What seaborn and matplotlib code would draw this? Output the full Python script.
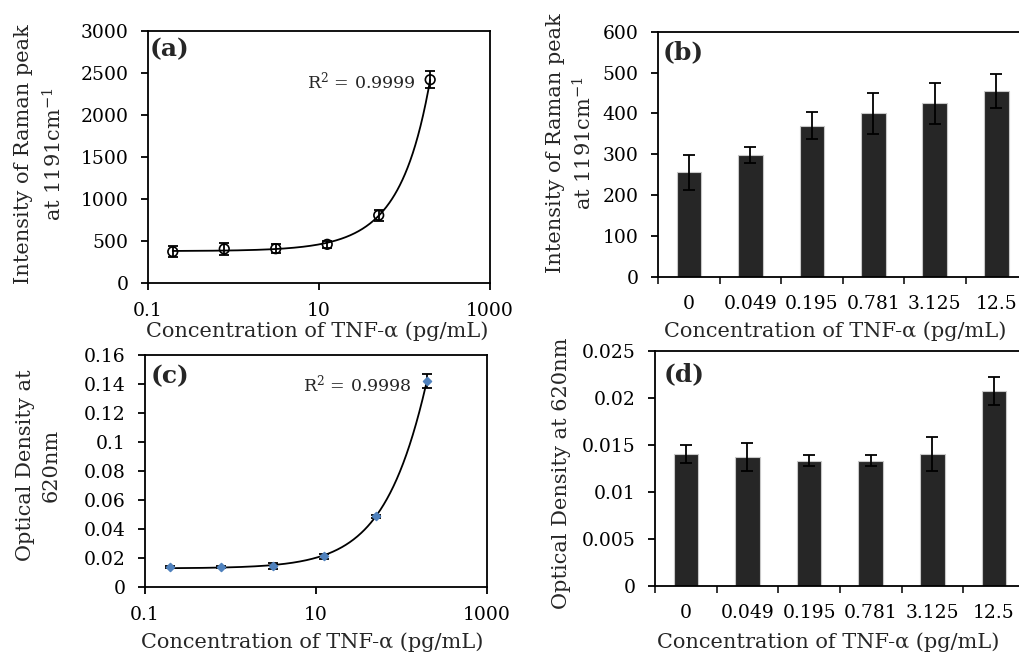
import numpy as np
import pandas as pd
import matplotlib.pyplot as plt
import seaborn as sns
from matplotlib.ticker import FixedLocator, NullFormatter, FixedFormatter

# data
conc = [0.195, 0.781, 3.125, 12.5, 50, 200]
raman_mean = [372, 405, 408, 460, 806, 2420]
raman_err = [65, 75, 52, 45, 67, 99]
od_mean = [0.0136, 0.0136, 0.0143, 0.0209, 0.0486, 0.1423]
od_err = [0.0006, 0.0006, 0.0020, 0.0015, 0.0010, 0.0048]
r2_a = '0.9999'
r2_c = '0.9998'

bar_labels = ['0', '0.049', '0.195', '0.781', '3.125', '12.5']
raman_bar = [256, 298, 370, 400, 425, 455]
raman_bar_err = [43, 20, 34, 51, 50, 41]
od_bar = [0.0140, 0.0137, 0.0133, 0.0133, 0.0140, 0.0207]
od_bar_err = [0.0010, 0.0015, 0.0006, 0.0006, 0.0018, 0.0015]

xlab = 'Concentration of TNF-α (pg/mL)'

sns.set_style('ticks')
plt.rcParams['font.family'] = ['DejaVu Serif']
plt.rcParams['mathtext.fontset'] = 'dejavuserif'
TICK = 13.5
LAB = 15

fig = plt.figure(figsize=(10.19, 6.55), dpi=100)
ax_a = fig.add_axes([0.1452, 0.568, 0.3356, 0.3847])
ax_b = fig.add_axes([0.646, 0.5776, 0.3618, 0.374])
ax_c = fig.add_axes([0.1423, 0.1043, 0.3353, 0.3537])
ax_d = fig.add_axes([0.6428, 0.1058, 0.3630, 0.3588])


def style_axes(ax):
    for s in ax.spines.values():
        s.set_color('black')
        s.set_linewidth(1.3)
    ax.tick_params(axis='both', direction='out', length=5, width=1.3,
                   labelsize=TICK, colors='black', pad=9)


def curve_panel(ax, y, yerr, marker, mfc, mec, ms, ymax, ystep, r2, tag, r2pos, tagpos):
    df = pd.DataFrame({'conc': conc, 'val': y})
    coef = np.polyfit(df['conc'], df['val'], 2)
    xs = np.geomspace(min(conc), max(conc), 400)
    fit = pd.DataFrame({'conc': xs, 'val': np.polyval(coef, xs)})
    sns.lineplot(data=fit, x='conc', y='val', ax=ax, color='black', lw=1.3)
    ax.errorbar(df['conc'], df['val'], yerr=yerr, fmt='none', ecolor='black',
                elinewidth=1.3, capsize=3.5, capthick=1.3, zorder=3)
    sns.scatterplot(data=df, x='conc', y='val', ax=ax, marker=marker, s=ms,
                    facecolor=mfc, edgecolor=mec, linewidth=1.2, zorder=4)
    ax.set_xscale('log')
    ax.set_xlim(0.1, 1000)
    ax.xaxis.set_major_locator(FixedLocator([0.1, 10, 1000]))
    ax.xaxis.set_major_formatter(FixedFormatter(['0.1', '10', '1000']))
    ax.xaxis.set_minor_locator(FixedLocator([]))
    ax.set_ylim(0, ymax)
    ax.set_yticks(np.arange(0, ymax + ystep / 2, ystep))
    style_axes(ax)
    ax.text(r2pos[0], r2pos[1], 'R$^2$ = ' + r2, transform=ax.transAxes,
            fontsize=12.5, va='center', ha='left')
    ax.text(tagpos[0], tagpos[1], tag, transform=ax.transAxes,
            fontsize=18, fontweight='bold', va='top', ha='left')


def bar_panel(ax, y, yerr, ymax, ystep, tag, tagpos):
    df = pd.DataFrame({'cat': bar_labels, 'val': y})
    sns.barplot(data=df, x='cat', y='val', ax=ax, color='#262626',
                saturation=1, width=0.4, edgecolor='#c8c8c8', linewidth=0.8,
                errorbar=None)
    ax.errorbar(range(len(bar_labels)), df['val'], yerr=yerr, fmt='none',
                ecolor='black', elinewidth=1.3, capsize=4, capthick=1.3, zorder=3)
    ax.set_xlim(-0.5, len(bar_labels) - 0.5)
    ax.set_ylim(0, ymax)
    ax.set_yticks(np.arange(0, ymax + ystep / 2, ystep))
    style_axes(ax)
    ax.xaxis.set_minor_locator(FixedLocator(np.arange(-0.5, len(bar_labels), 1.0)))
    ax.xaxis.set_minor_formatter(NullFormatter())
    ax.tick_params(axis='x', which='minor', direction='out', length=5, width=1.3,
                   bottom=True)
    ax.tick_params(axis='x', which='major', length=0, pad=13)
    ax.text(tagpos[0], tagpos[1], tag, transform=ax.transAxes,
            fontsize=18, fontweight='bold', va='top', ha='left')


curve_panel(ax_a, raman_mean, raman_err, 'o', 'none', 'black', 48, 3000, 500,
            r2_a, '(a)', (0.465, 0.80), (0.005, 0.975))
curve_panel(ax_c, od_mean, od_err, 'D', '#4F81BD', '#4F81BD', 16, 0.16, 0.02,
            r2_c, '(c)', (0.462, 0.875), (0.015, 0.96))
ax_c.set_yticklabels(['0', '0.02', '0.04', '0.06', '0.08', '0.1', '0.12', '0.14', '0.16'])

bar_panel(ax_b, raman_bar, raman_bar_err, 600, 100, '(b)', (0.012, 0.965))
bar_panel(ax_d, od_bar, od_bar_err, 0.025, 0.005, '(d)', (0.022, 0.95))
ax_d.set_yticklabels(['0', '0.005', '0.01', '0.015', '0.02', '0.025'])

ax_a.set_ylabel('Intensity of Raman peak\nat 1191cm$^{-1}$', fontsize=LAB, linespacing=1.45)
ax_b.set_ylabel('Intensity of Raman peak\nat 1191cm$^{-1}$', fontsize=LAB, linespacing=1.4)
ax_c.set_ylabel('Optical Density at\n620nm', fontsize=LAB, linespacing=1.45)
ax_d.set_ylabel('Optical Density at 620nm', fontsize=LAB)
for ax in (ax_a, ax_b, ax_c, ax_d):
    ax.set_xlabel(xlab, fontsize=LAB)
    ax.xaxis.label.set_va('center')
    ax.yaxis.label.set_va('center')

ax_a.yaxis.set_label_coords(-0.316, 0.51)
ax_b.yaxis.set_label_coords(-0.238, 0.546)
ax_c.yaxis.set_label_coords(-0.313, 0.525)
ax_d.yaxis.set_label_coords(-0.253, 0.48)
ax_a.xaxis.set_label_coords(0.494, -0.19)
ax_b.xaxis.set_label_coords(0.48, -0.222)
ax_c.xaxis.set_label_coords(0.489, -0.239)
ax_d.xaxis.set_label_coords(0.468, -0.24)

fig.savefig('out.png', dpi=100)
